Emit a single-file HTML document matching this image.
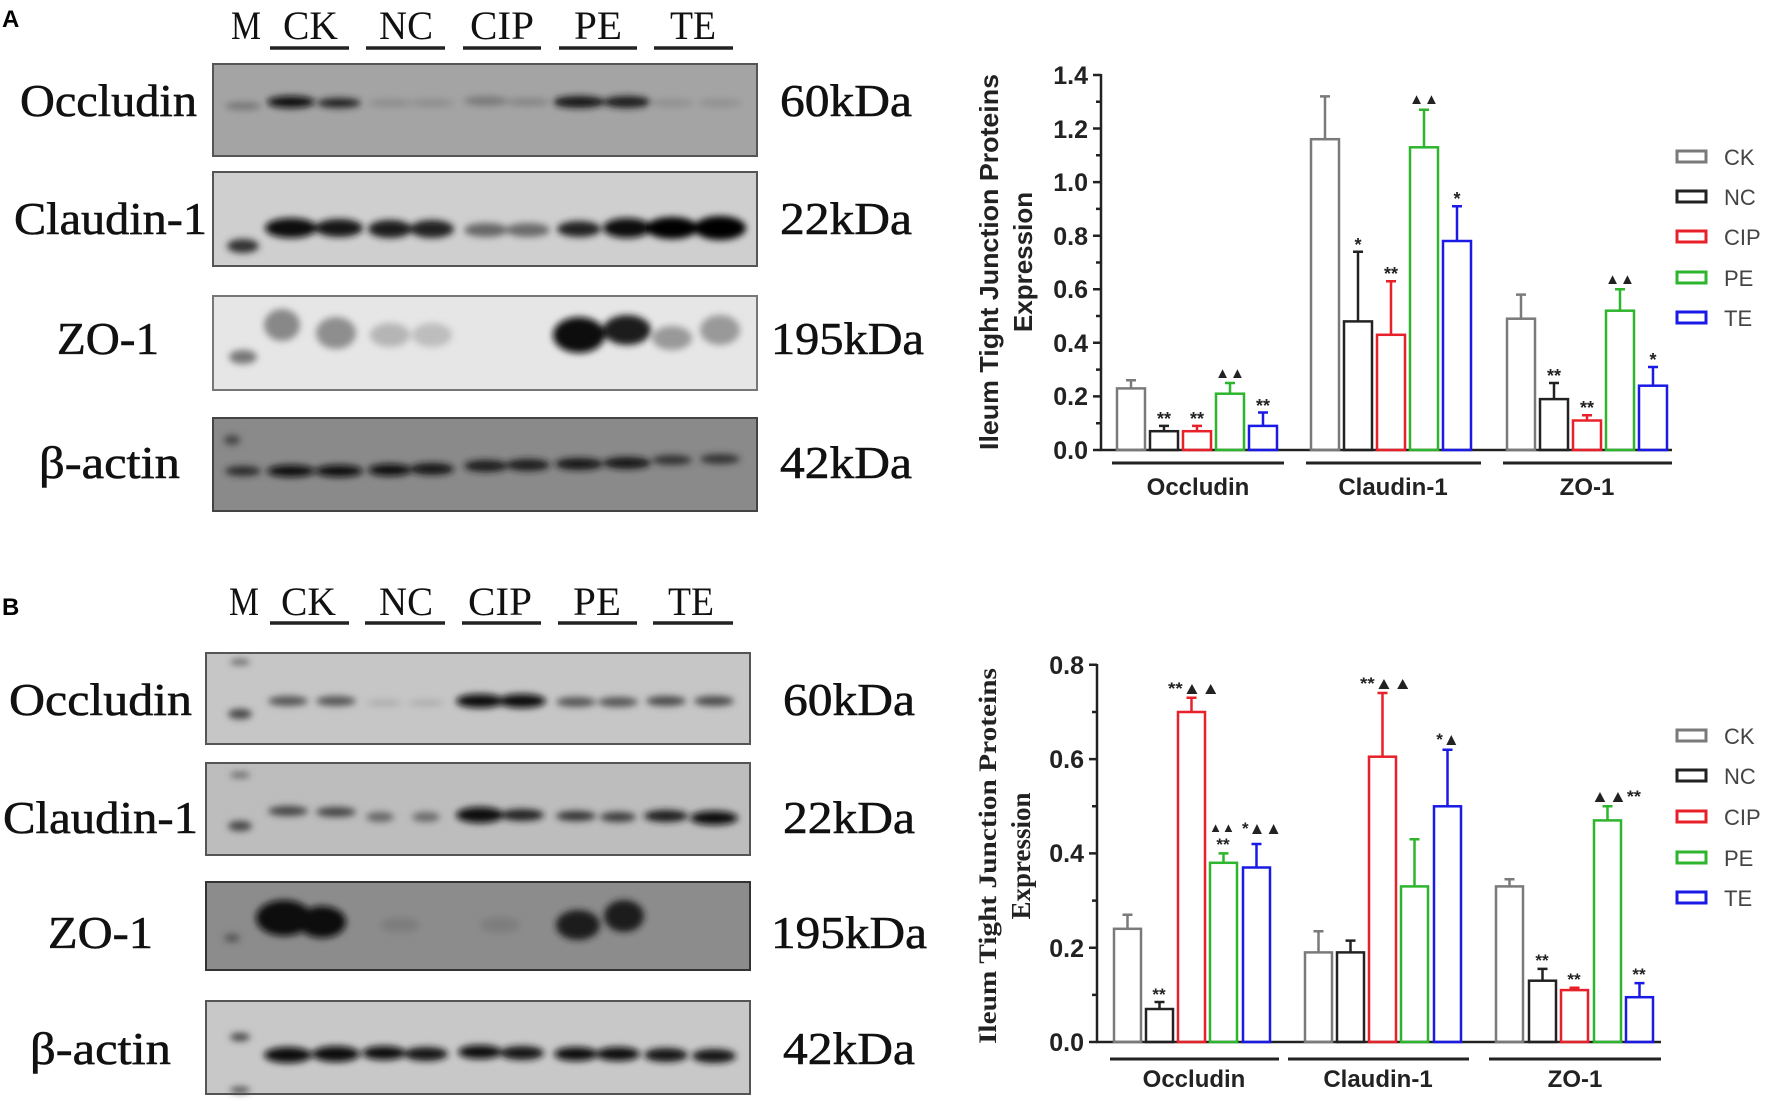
<!DOCTYPE html>
<html><head><meta charset="utf-8"><style>
html,body{margin:0;padding:0;background:#fff;}
svg{display:block;}
.s{font-family:"Liberation Sans",Arial,sans-serif;font-weight:bold;}
.t{font-family:"Liberation Serif","Times New Roman",serif;}
</style></head><body>
<svg width="1772" height="1107" viewBox="0 0 1772 1107" xmlns="http://www.w3.org/2000/svg">
<defs>
<filter id="b" x="-50%" y="-100%" width="200%" height="300%"><feGaussianBlur stdDeviation="3.5"/></filter>
</defs>
<rect width="1772" height="1107" fill="#fff"/>

<!-- ===== Panel A blots ===== -->
<text x="2" y="27" class="s" font-size="24">A</text>
<g class="t" font-size="40" fill="#111">
<text x="231" y="39" textLength="30" lengthAdjust="spacingAndGlyphs">M</text><text x="283" y="39" textLength="55" lengthAdjust="spacingAndGlyphs">CK</text><text x="379" y="39" textLength="54" lengthAdjust="spacingAndGlyphs">NC</text><text x="470" y="39" textLength="64" lengthAdjust="spacingAndGlyphs">CIP</text><text x="574" y="39" textLength="48" lengthAdjust="spacingAndGlyphs">PE</text><text x="670" y="39" textLength="46" lengthAdjust="spacingAndGlyphs">TE</text>
</g>
<g stroke="#222" stroke-width="3.5">
<line x1="270" y1="48" x2="349" y2="48"/><line x1="366" y1="48" x2="445" y2="48"/><line x1="463" y1="48" x2="541" y2="48"/><line x1="559" y1="48" x2="637" y2="48"/><line x1="654" y1="48" x2="733" y2="48"/>
</g>
<g class="t" font-size="46" fill="#111" stroke="#111" stroke-width="0.6">
<text x="20" y="116" textLength="177" lengthAdjust="spacingAndGlyphs">Occludin</text>
<text x="14" y="234" textLength="193" lengthAdjust="spacingAndGlyphs">Claudin-1</text>
<text x="57" y="354" textLength="102" lengthAdjust="spacingAndGlyphs">ZO-1</text>
<text x="39" y="478" textLength="141" lengthAdjust="spacingAndGlyphs">β-actin</text>
<text x="780" y="116" textLength="132" lengthAdjust="spacingAndGlyphs">60kDa</text>
<text x="780" y="234" textLength="132" lengthAdjust="spacingAndGlyphs">22kDa</text>
<text x="771" y="354" textLength="153" lengthAdjust="spacingAndGlyphs">195kDa</text>
<text x="780" y="478" textLength="132" lengthAdjust="spacingAndGlyphs">42kDa</text>
</g>
<rect x="213" y="64" width="544" height="92" fill="#a4a4a4" stroke="#555" stroke-width="2"/>
<g filter="url(#b)">
<ellipse cx="243" cy="106" rx="18" ry="4" fill="#777"/>
<ellipse cx="291" cy="102" rx="24" ry="6" fill="#111"/><ellipse cx="339" cy="103" rx="22" ry="5" fill="#222"/>
<ellipse cx="390" cy="103" rx="22" ry="4" fill="#8d8d8d"/><ellipse cx="432" cy="103" rx="22" ry="4" fill="#8d8d8d"/>
<ellipse cx="486" cy="101" rx="22" ry="5" fill="#7a7a7a"/><ellipse cx="528" cy="102" rx="22" ry="4" fill="#858585"/>
<ellipse cx="579" cy="102" rx="26" ry="6" fill="#141414"/><ellipse cx="627" cy="102" rx="24" ry="6" fill="#1a1a1a"/>
<ellipse cx="672" cy="103" rx="22" ry="4" fill="#909090"/><ellipse cx="720" cy="103" rx="22" ry="4" fill="#909090"/>
</g>
<rect x="213" y="172" width="544" height="94" fill="#cfcfcf" stroke="#555" stroke-width="2"/>
<g filter="url(#b)">
<ellipse cx="243" cy="246" rx="16" ry="7" fill="#333"/>
<ellipse cx="291" cy="228" rx="26" ry="10" fill="#0a0a0a"/><ellipse cx="339" cy="228" rx="24" ry="9" fill="#141414"/>
<ellipse cx="390" cy="229" rx="22" ry="9" fill="#1c1c1c"/><ellipse cx="432" cy="229" rx="22" ry="9" fill="#222"/>
<ellipse cx="486" cy="230" rx="22" ry="7" fill="#666"/><ellipse cx="528" cy="230" rx="22" ry="7" fill="#6a6a6a"/>
<ellipse cx="579" cy="229" rx="22" ry="8" fill="#222"/><ellipse cx="627" cy="228" rx="24" ry="10" fill="#111"/>
<ellipse cx="672" cy="228" rx="26" ry="11" fill="#050505"/><ellipse cx="720" cy="228" rx="26" ry="12" fill="#050505"/>
</g>
<rect x="213" y="296" width="544" height="94" fill="#e6e6e6" stroke="#777" stroke-width="2"/>
<g filter="url(#b)">
<ellipse cx="243" cy="357" rx="14" ry="7" fill="#777"/>
<ellipse cx="282" cy="325" rx="18" ry="16" fill="#888"/><ellipse cx="336" cy="333" rx="20" ry="16" fill="#8e8e8e"/>
<ellipse cx="390" cy="335" rx="20" ry="12" fill="#b5b5b5"/><ellipse cx="432" cy="335" rx="20" ry="12" fill="#bdbdbd"/>
<ellipse cx="579" cy="335" rx="26" ry="18" fill="#0d0d0d"/><ellipse cx="627" cy="330" rx="24" ry="15" fill="#1a1a1a"/>
<ellipse cx="672" cy="338" rx="20" ry="12" fill="#999"/><ellipse cx="720" cy="330" rx="20" ry="15" fill="#999"/>
</g>
<rect x="213" y="418" width="544" height="93" fill="#8a8a8a" stroke="#444" stroke-width="2"/>
<g filter="url(#b)">
<ellipse cx="232" cy="440" rx="8" ry="5" fill="#444"/>
<ellipse cx="243" cy="471" rx="18" ry="5" fill="#2a2a2a"/>
<ellipse cx="291" cy="471" rx="24" ry="6" fill="#111"/><ellipse cx="339" cy="471" rx="24" ry="6" fill="#111"/>
<ellipse cx="390" cy="470" rx="22" ry="6" fill="#111"/><ellipse cx="432" cy="469" rx="22" ry="6" fill="#151515"/>
<ellipse cx="486" cy="466" rx="22" ry="6" fill="#1a1a1a"/><ellipse cx="528" cy="465" rx="22" ry="6" fill="#1a1a1a"/>
<ellipse cx="579" cy="464" rx="24" ry="6" fill="#151515"/><ellipse cx="627" cy="463" rx="24" ry="6" fill="#151515"/>
<ellipse cx="672" cy="460" rx="20" ry="5" fill="#333"/><ellipse cx="720" cy="459" rx="20" ry="5" fill="#333"/>
</g>

<!-- ===== Panel B blots ===== -->
<text x="2" y="615" class="s" font-size="24">B</text>
<g class="t" font-size="40" fill="#111">
<text x="229" y="615" textLength="30" lengthAdjust="spacingAndGlyphs">M</text><text x="281" y="615" textLength="55" lengthAdjust="spacingAndGlyphs">CK</text><text x="379" y="615" textLength="54" lengthAdjust="spacingAndGlyphs">NC</text><text x="468" y="615" textLength="64" lengthAdjust="spacingAndGlyphs">CIP</text><text x="573" y="615" textLength="48" lengthAdjust="spacingAndGlyphs">PE</text><text x="668" y="615" textLength="46" lengthAdjust="spacingAndGlyphs">TE</text>
</g>
<g stroke="#222" stroke-width="3.5">
<line x1="270" y1="623" x2="349" y2="623"/><line x1="365" y1="623" x2="445" y2="623"/><line x1="462" y1="623" x2="541" y2="623"/><line x1="558" y1="623" x2="637" y2="623"/><line x1="653" y1="623" x2="733" y2="623"/>
</g>
<g class="t" font-size="46" fill="#111" stroke="#111" stroke-width="0.6">
<text x="9" y="715" textLength="183" lengthAdjust="spacingAndGlyphs">Occludin</text>
<text x="3" y="833" textLength="195" lengthAdjust="spacingAndGlyphs">Claudin-1</text>
<text x="48" y="948" textLength="105" lengthAdjust="spacingAndGlyphs">ZO-1</text>
<text x="30" y="1064" textLength="141" lengthAdjust="spacingAndGlyphs">β-actin</text>
<text x="783" y="715" textLength="132" lengthAdjust="spacingAndGlyphs">60kDa</text>
<text x="783" y="833" textLength="132" lengthAdjust="spacingAndGlyphs">22kDa</text>
<text x="771" y="948" textLength="156" lengthAdjust="spacingAndGlyphs">195kDa</text>
<text x="783" y="1064" textLength="132" lengthAdjust="spacingAndGlyphs">42kDa</text>
</g>
<rect x="206" y="653" width="544" height="91" fill="#c6c6c6" stroke="#555" stroke-width="2"/>
<g filter="url(#b)">
<ellipse cx="240" cy="662" rx="10" ry="3" fill="#666"/><ellipse cx="240" cy="714" rx="12" ry="5" fill="#444"/>
<ellipse cx="288" cy="701" rx="20" ry="5" fill="#555"/><ellipse cx="336" cy="701" rx="20" ry="5" fill="#555"/>
<ellipse cx="384" cy="703" rx="18" ry="3" fill="#aaa"/><ellipse cx="426" cy="703" rx="18" ry="3" fill="#aaa"/>
<ellipse cx="480" cy="701" rx="24" ry="7" fill="#0a0a0a"/><ellipse cx="522" cy="701" rx="24" ry="7" fill="#0d0d0d"/>
<ellipse cx="576" cy="702" rx="20" ry="5" fill="#555"/><ellipse cx="618" cy="702" rx="20" ry="5" fill="#555"/>
<ellipse cx="666" cy="701" rx="20" ry="5" fill="#4a4a4a"/><ellipse cx="714" cy="701" rx="20" ry="5" fill="#4a4a4a"/>
</g>
<rect x="206" y="763" width="544" height="92" fill="#bdbdbd" stroke="#555" stroke-width="2"/>
<g filter="url(#b)">
<ellipse cx="240" cy="775" rx="10" ry="3" fill="#666"/><ellipse cx="240" cy="826" rx="12" ry="5" fill="#444"/>
<ellipse cx="288" cy="811" rx="20" ry="5" fill="#444"/><ellipse cx="336" cy="812" rx="20" ry="5" fill="#444"/>
<ellipse cx="380" cy="817" rx="14" ry="5" fill="#666"/><ellipse cx="426" cy="817" rx="14" ry="5" fill="#6a6a6a"/>
<ellipse cx="480" cy="815" rx="24" ry="8" fill="#080808"/><ellipse cx="522" cy="815" rx="22" ry="6" fill="#222"/>
<ellipse cx="576" cy="816" rx="20" ry="5" fill="#333"/><ellipse cx="618" cy="817" rx="18" ry="5" fill="#3a3a3a"/>
<ellipse cx="666" cy="816" rx="22" ry="6" fill="#1a1a1a"/><ellipse cx="714" cy="818" rx="24" ry="7" fill="#111"/>
</g>
<rect x="206" y="882" width="544" height="88" fill="#8c8c8c" stroke="#333" stroke-width="2"/>
<g filter="url(#b)">
<ellipse cx="232" cy="938" rx="8" ry="4" fill="#555"/>
<ellipse cx="284" cy="918" rx="28" ry="18" fill="#0a0a0a"/><ellipse cx="322" cy="922" rx="24" ry="16" fill="#111"/>
<ellipse cx="578" cy="925" rx="22" ry="15" fill="#1a1a1a"/><ellipse cx="624" cy="916" rx="20" ry="16" fill="#1a1a1a"/>
<ellipse cx="400" cy="925" rx="20" ry="8" fill="#7e7e7e"/><ellipse cx="500" cy="925" rx="20" ry="8" fill="#7e7e7e"/>
</g>
<rect x="206" y="1001" width="544" height="93" fill="#c8c8c8" stroke="#555" stroke-width="2"/>
<g filter="url(#b)">
<ellipse cx="240" cy="1037" rx="10" ry="4" fill="#444"/><ellipse cx="240" cy="1090" rx="10" ry="3" fill="#444"/>
<ellipse cx="288" cy="1055" rx="24" ry="8" fill="#080808"/><ellipse cx="336" cy="1054" rx="24" ry="8" fill="#080808"/>
<ellipse cx="384" cy="1053" rx="22" ry="7" fill="#111"/><ellipse cx="426" cy="1054" rx="22" ry="7" fill="#151515"/>
<ellipse cx="480" cy="1052" rx="22" ry="7" fill="#111"/><ellipse cx="522" cy="1053" rx="22" ry="7" fill="#151515"/>
<ellipse cx="576" cy="1054" rx="22" ry="7" fill="#111"/><ellipse cx="618" cy="1054" rx="22" ry="7" fill="#111"/>
<ellipse cx="666" cy="1055" rx="22" ry="7" fill="#151515"/><ellipse cx="714" cy="1056" rx="22" ry="7" fill="#151515"/>
</g>

<!-- ===== Chart A ===== -->
<g class="s" font-size="26" fill="#222" text-anchor="middle">
<text transform="translate(998,262) rotate(-90)" textLength="376" lengthAdjust="spacingAndGlyphs">Ileum Tight Junction Proteins</text>
<text transform="translate(1032,262) rotate(-90)">Expression</text>
</g>
<g stroke="#222" stroke-width="2.5" fill="none">
<line x1="1101" y1="74" x2="1101" y2="451"/>
<line x1="1100" y1="450" x2="1672" y2="450"/>
<path d="M1093 450H1101M1096 423.2H1101M1093 396.4H1101M1096 369.6H1101M1093 342.8H1101M1096 316H1101M1093 289.3H1101M1096 262.5H1101M1093 235.7H1101M1096 208.9H1101M1093 182.1H1101M1096 155.3H1101M1093 128.5H1101M1096 101.8H1101M1093 75H1101"/>
</g>
<g class="s" font-size="25" fill="#222" text-anchor="end">
<text x="1088" y="459">0.0</text><text x="1088" y="405">0.2</text><text x="1088" y="352">0.4</text><text x="1088" y="298">0.6</text><text x="1088" y="245">0.8</text><text x="1088" y="191">1.0</text><text x="1088" y="138">1.2</text><text x="1088" y="84">1.4</text>
</g>
<g stroke="#222" stroke-width="3">
<line x1="1112" y1="463" x2="1284" y2="463"/><line x1="1306" y1="463" x2="1481" y2="463"/><line x1="1503" y1="463" x2="1672" y2="463"/>
</g>
<g class="s" font-size="24" fill="#222" text-anchor="middle">
<text x="1198" y="495">Occludin</text><text x="1393" y="495">Claudin-1</text><text x="1587" y="495">ZO-1</text>
</g>
<g fill="none" stroke-width="2.5">
<g stroke="#7a7a7a"><rect x="1117" y="388.4" width="28" height="61.6"/><path d="M1131 388V380.3M1126 380.3H1136"/></g>
<g stroke="#222"><rect x="1150" y="431.2" width="28" height="18.8"/><path d="M1164 431V425.9M1159 425.9H1169"/></g>
<g stroke="#e8202a"><rect x="1183" y="431.2" width="28" height="18.8"/><path d="M1197 431V425.9M1192 425.9H1202"/></g>
<g stroke="#2db52d"><rect x="1216" y="393.7" width="28" height="56.3"/><path d="M1230 393V383M1225 383H1235"/></g>
<g stroke="#1a1ae6"><rect x="1249" y="425.9" width="28" height="24.1"/><path d="M1263 425V412.5M1258 412.5H1268"/></g>
<g stroke="#7a7a7a"><rect x="1311" y="139.2" width="28" height="310.8"/><path d="M1325 139V96.4M1320 96.4H1330"/></g>
<g stroke="#222"><rect x="1344" y="321.4" width="28" height="128.6"/><path d="M1358 321V251.8M1353 251.8H1363"/></g>
<g stroke="#e8202a"><rect x="1377" y="334.8" width="28" height="115.2"/><path d="M1391 334V281.2M1386 281.2H1396"/></g>
<g stroke="#2db52d"><rect x="1410" y="147.3" width="28" height="302.7"/><path d="M1424 147V109.8M1419 109.8H1429"/></g>
<g stroke="#1a1ae6"><rect x="1443" y="241" width="28" height="209"/><path d="M1457 241V206.2M1452 206.2H1462"/></g>
<g stroke="#7a7a7a"><rect x="1507" y="318.7" width="28" height="131.3"/><path d="M1521 318V294.6M1516 294.6H1526"/></g>
<g stroke="#222"><rect x="1540" y="399.1" width="28" height="50.9"/><path d="M1554 399V383M1549 383H1559"/></g>
<g stroke="#e8202a"><rect x="1573" y="420.5" width="28" height="29.5"/><path d="M1587 420V415.2M1582 415.2H1592"/></g>
<g stroke="#2db52d"><rect x="1606" y="310.7" width="28" height="139.3"/><path d="M1620 310V289.3M1615 289.3H1625"/></g>
<g stroke="#1a1ae6"><rect x="1639" y="385.7" width="28" height="64.3"/><path d="M1653 385V367M1648 367H1658"/></g>
</g>
<g class="s" font-size="18" fill="#222" text-anchor="middle">
<text x="1164" y="425">**</text><text x="1197" y="425">**</text><text x="1230" y="378" font-size="15">▲▲</text><text x="1263" y="412">**</text>
<text x="1358" y="251">*</text><text x="1391" y="280">**</text><text x="1424" y="104" font-size="15">▲▲</text><text x="1457" y="205">*</text>
<text x="1554" y="382">**</text><text x="1587" y="414">**</text><text x="1620" y="284" font-size="15">▲▲</text><text x="1653" y="366">*</text>
</g>
<g fill="none" stroke-width="3">
<rect x="1677" y="151" width="29" height="11" stroke="#7a7a7a"/>
<rect x="1677" y="191" width="29" height="11" stroke="#222"/>
<rect x="1677" y="231" width="29" height="11" stroke="#e8202a"/>
<rect x="1677" y="272" width="29" height="11" stroke="#2db52d"/>
<rect x="1677" y="312" width="29" height="11" stroke="#1a1ae6"/>
</g>
<g font-family="Liberation Sans,Arial,sans-serif" font-size="22" fill="#444">
<text x="1724" y="165">CK</text><text x="1724" y="205">NC</text><text x="1724" y="245">CIP</text><text x="1724" y="286">PE</text><text x="1724" y="326">TE</text>
</g>

<!-- ===== Chart B ===== -->
<g class="t" font-size="25" font-weight="bold" fill="#222" text-anchor="middle">
<text transform="translate(996,856) rotate(-90)" textLength="376" lengthAdjust="spacingAndGlyphs">Ileum Tight Junction Proteins</text>
<text transform="translate(1030,856) rotate(-90)" font-size="27">Expression</text>
</g>
<g stroke="#222" stroke-width="2.5" fill="none">
<line x1="1097" y1="664" x2="1097" y2="1043"/>
<line x1="1096" y1="1042" x2="1661" y2="1042"/>
<path d="M1089 1042H1097M1092 994.9H1097M1089 947.7H1097M1092 900.6H1097M1089 853.4H1097M1092 806.3H1097M1089 759.1H1097M1092 712H1097M1089 664.8H1097"/>
</g>
<g class="s" font-size="25" fill="#222" text-anchor="end">
<text x="1084" y="1051">0.0</text><text x="1084" y="957">0.2</text><text x="1084" y="862">0.4</text><text x="1084" y="768">0.6</text><text x="1084" y="674">0.8</text>
</g>
<g stroke="#222" stroke-width="3">
<line x1="1110" y1="1059" x2="1279" y2="1059"/><line x1="1288" y1="1059" x2="1469" y2="1059"/><line x1="1489" y1="1059" x2="1661" y2="1059"/>
</g>
<g class="s" font-size="24" fill="#222" text-anchor="middle">
<text x="1194" y="1087">Occludin</text><text x="1378" y="1087">Claudin-1</text><text x="1575" y="1087">ZO-1</text>
</g>
<g fill="none" stroke-width="2.5">
<g stroke="#7a7a7a"><rect x="1114" y="928.8" width="27" height="113.2"/><path d="M1127.5 928V914.7M1122.5 914.7H1132.5"/></g>
<g stroke="#222"><rect x="1146" y="1009" width="27" height="33"/><path d="M1159.5 1009V1002M1154.5 1002H1164.5"/></g>
<g stroke="#e8202a"><rect x="1178" y="712" width="27" height="330"/><path d="M1191.5 712V697.8M1186.5 697.8H1196.5"/></g>
<g stroke="#2db52d"><rect x="1210" y="862.8" width="27" height="179.2"/><path d="M1223.5 862V853.4M1218.5 853.4H1228.5"/></g>
<g stroke="#1a1ae6"><rect x="1243" y="867.5" width="27" height="174.5"/><path d="M1256.5 867V844M1251.5 844H1261.5"/></g>
<g stroke="#7a7a7a"><rect x="1305" y="952.4" width="27" height="89.6"/><path d="M1318.5 952V931.2M1313.5 931.2H1323.5"/></g>
<g stroke="#222"><rect x="1337" y="952.4" width="27" height="89.6"/><path d="M1350.5 952V940.6M1345.5 940.6H1355.5"/></g>
<g stroke="#e8202a"><rect x="1369" y="756.7" width="27" height="285.3"/><path d="M1382.5 756V693M1377.5 693H1387.5"/></g>
<g stroke="#2db52d"><rect x="1401" y="886.4" width="27" height="155.6"/><path d="M1414.5 886V839.3M1409.5 839.3H1419.5"/></g>
<g stroke="#1a1ae6"><rect x="1434" y="806.3" width="27" height="235.7"/><path d="M1447.5 806V749.7M1442.5 749.7H1452.5"/></g>
<g stroke="#7a7a7a"><rect x="1496" y="886.4" width="27" height="155.6"/><path d="M1509.5 886V879.3M1504.5 879.3H1514.5"/></g>
<g stroke="#222"><rect x="1529" y="980.7" width="27" height="61.3"/><path d="M1542.5 980V968.9M1537.5 968.9H1547.5"/></g>
<g stroke="#e8202a"><rect x="1561" y="990.1" width="27" height="51.9"/><path d="M1574.5 990V987.8M1569.5 987.8H1579.5"/></g>
<g stroke="#2db52d"><rect x="1594" y="820.4" width="27" height="221.6"/><path d="M1607.5 820V806.3M1602.5 806.3H1612.5"/></g>
<g stroke="#1a1ae6"><rect x="1626" y="997.2" width="27" height="44.8"/><path d="M1639.5 997V983.1M1634.5 983.1H1644.5"/></g>
</g>
<g class="s" font-size="17" fill="#222" text-anchor="middle">
<text x="1159" y="1000">**</text>
<text x="1194" y="694" textLength="52" lengthAdjust="spacingAndGlyphs">**▲▲</text>
<text x="1223" y="850">**</text><text x="1222" y="832" font-size="13">▲▲</text>
<text x="1262" y="834" textLength="40" lengthAdjust="spacingAndGlyphs">*▲▲</text>
<text x="1386" y="689" textLength="52" lengthAdjust="spacingAndGlyphs">**▲▲</text>
<text x="1448" y="745">*▲</text>
<text x="1542" y="966">**</text><text x="1574" y="985">**</text>
<text x="1616" y="802" textLength="50" lengthAdjust="spacingAndGlyphs">▲▲**</text>
<text x="1639" y="980">**</text>
</g>
<g fill="none" stroke-width="3">
<rect x="1677" y="730" width="29" height="11" stroke="#7a7a7a"/>
<rect x="1677" y="770" width="29" height="11" stroke="#222"/>
<rect x="1677" y="811" width="29" height="11" stroke="#e8202a"/>
<rect x="1677" y="852" width="29" height="11" stroke="#2db52d"/>
<rect x="1677" y="892" width="29" height="11" stroke="#1a1ae6"/>
</g>
<g font-family="Liberation Sans,Arial,sans-serif" font-size="22" fill="#444">
<text x="1724" y="744">CK</text><text x="1724" y="784">NC</text><text x="1724" y="825">CIP</text><text x="1724" y="866">PE</text><text x="1724" y="906">TE</text>
</g>
</svg>
</body></html>
